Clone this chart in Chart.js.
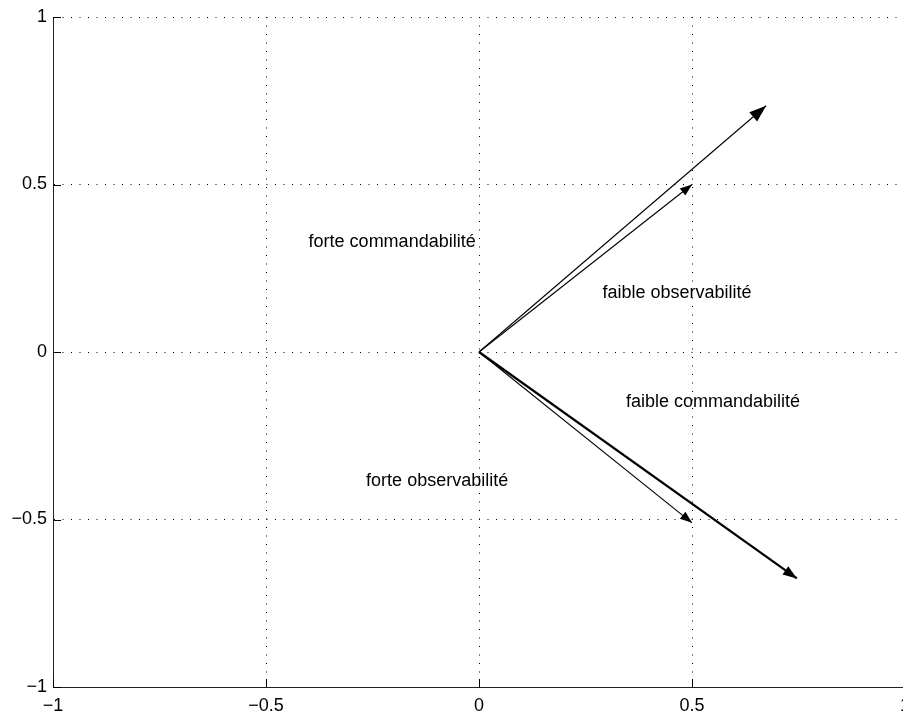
<!DOCTYPE html>
<html>
<head>
<meta charset="utf-8">
<script src="https://cdn.jsdelivr.net/npm/chart.js@4.4.0/dist/chart.umd.min.js"></script>
<style>
html, body { margin: 0; padding: 0; background: #fff; overflow: hidden; }
#wrap { width: 920px; height: 715px; }
</style>
</head>
<body>
<div id="wrap"><canvas id="vecChart" width="920" height="715"></canvas></div>
<script>
// Axis ticks
const tickValues = [-1, -0.5, 0, 0.5, 1];
const tickLabels = ['\u22121', '\u22120.5', '0', '0.5', '1'];

// Vector end points, every vector starts at the origin
const vectorX = [0.674, 0.5, 0.5, 0.746];
const vectorY = [0.735, 0.5, -0.51, -0.676];

// Text annotations (left anchored, vertically centred)
const noteTexts = ['forte commandabilité', 'faible observabilité', 'faible commandabilité', 'forte observabilité'];
const noteX = [-0.4, 0.29, 0.345, -0.265];
const noteY = [0.327, 0.177, -0.15, -0.386];

// Line style per vector
const lineWidths = [1.1, 1.1, 1.1, 2.2];
const headLen = [17, 12, 12, 14];
const headWid = [12, 9, 9, 10];

const FONT = 'Liberation Sans, Arial, Helvetica, sans-serif';

const datasets = vectorX.map((vx, i) => ({
    data: [{ x: 0, y: 0 }, { x: vx, y: vectorY[i] }],
    showLine: true,
    borderColor: '#000',
    borderWidth: lineWidths[i],
    pointRadius: 0,
    headLen: headLen[i],
    headWid: headWid[i]
}));

// Filled arrow head at the end of every vector
const arrowHeads = {
    id: 'arrowHeads',
    afterDatasetsDraw(chart) {
        const ctx = chart.ctx;
        chart.data.datasets.forEach((ds, i) => {
            const pts = chart.getDatasetMeta(i).data;
            const p0 = pts[0], p1 = pts[1];
            const a = Math.atan2(p1.y - p0.y, p1.x - p0.x);
            const bx = p1.x - ds.headLen * Math.cos(a), by = p1.y - ds.headLen * Math.sin(a);
            const hw = ds.headWid / 2;
            ctx.save();
            ctx.fillStyle = '#000';
            ctx.beginPath();
            ctx.moveTo(p1.x, p1.y);
            ctx.lineTo(bx + hw * Math.sin(a), by - hw * Math.cos(a));
            ctx.lineTo(bx - hw * Math.sin(a), by + hw * Math.cos(a));
            ctx.closePath();
            ctx.fill();
            ctx.restore();
        });
    }
};

// Inside tick marks and annotations
const extras = {
    id: 'extras',
    afterDraw(chart) {
        const ctx = chart.ctx;
        const xs = chart.scales.x, ys = chart.scales.y;
        const area = chart.chartArea;
        ctx.save();
        ctx.strokeStyle = '#000';
        ctx.lineWidth = 1;
        ctx.beginPath();
        tickValues.forEach(v => {
            const px = Math.round(xs.getPixelForValue(v)) + 0.5;
            ctx.moveTo(px, area.bottom);
            ctx.lineTo(px, area.bottom - 8);
            const py = Math.round(ys.getPixelForValue(v)) + 0.5;
            ctx.moveTo(area.left, py);
            ctx.lineTo(area.left + 8, py);
        });
        ctx.stroke();
        ctx.fillStyle = '#000';
        ctx.font = '18px ' + FONT;
        ctx.textAlign = 'left';
        ctx.textBaseline = 'middle';
        noteTexts.forEach((t, i) => {
            ctx.fillText(t, xs.getPixelForValue(noteX[i]), ys.getPixelForValue(noteY[i]));
        });
        ctx.restore();
    }
};

const axisCommon = {
    min: -1,
    max: 1,
    afterBuildTicks: s => { s.ticks = tickValues.map(v => ({ value: v })); },
    grid: { color: '#000', lineWidth: 1, drawTicks: false },
    border: { display: true, color: '#222', width: 1, dash: [1, 7.5] },
    ticks: {
        color: '#000',
        font: { family: FONT, size: 18 },
        callback: v => tickLabels[tickValues.indexOf(v)]
    }
};

new Chart(document.getElementById('vecChart'), {
    type: 'scatter',
    data: { datasets: datasets },
    options: {
        responsive: false,
        animation: false,
        devicePixelRatio: 1,
        layout: { padding: { top: 17, right: 15, left: 0, bottom: 0 } },
        scales: {
            x: Object.assign({}, axisCommon, {
                type: 'linear',
                position: 'bottom',
                afterFit: s => { s.height = 28; },
                ticks: Object.assign({}, axisCommon.ticks, { padding: 8, maxRotation: 0 })
            }),
            y: Object.assign({}, axisCommon, {
                type: 'linear',
                position: 'left',
                afterFit: s => { s.width = 53; },
                ticks: Object.assign({}, axisCommon.ticks, { padding: 6 })
            })
        },
        plugins: { legend: { display: false }, tooltip: { enabled: false } }
    },
    plugins: [arrowHeads, extras]
});
</script>
</body>
</html>
